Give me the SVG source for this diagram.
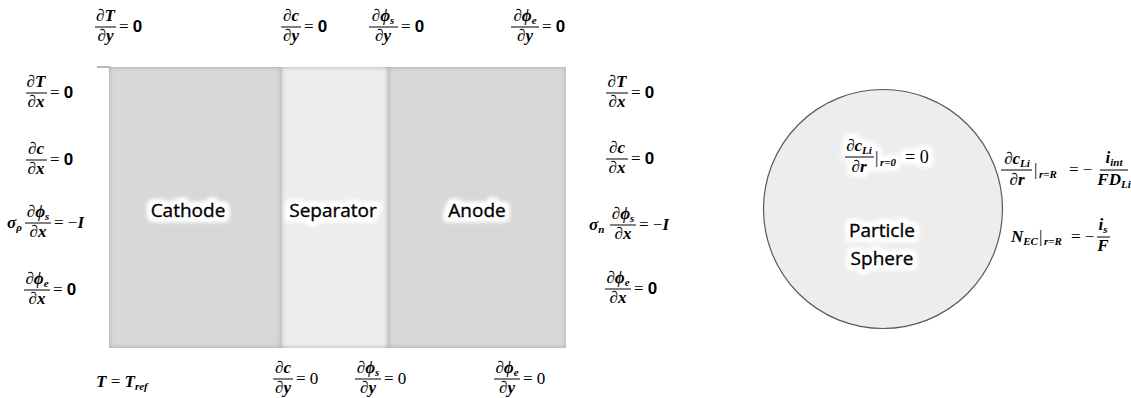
<svg xmlns="http://www.w3.org/2000/svg" width="1131" height="398" viewBox="0 0 1131 398">
<defs>
<style>
.m{font-family:"Liberation Serif","DejaVu Serif",serif;font-style:italic;font-weight:bold;font-size:17px;fill:#000}
.e{font-family:"Liberation Serif","DejaVu Serif",serif;font-style:normal;font-weight:normal;font-size:17px;fill:#000}
.z{font-family:"Liberation Sans",Arial,sans-serif;font-weight:bold;font-style:normal}
.sb{font-size:11px}
.bar{stroke:#000;stroke-width:1}
.lbl{font-family:"Open Sans","Noto Sans",sans-serif;font-size:19px;fill:#000;stroke:#000;stroke-width:0.35;text-anchor:middle}
.c{text-anchor:middle}
</style>
<filter id="inset" x="-5%" y="-5%" width="110%" height="110%">
<feFlood flood-color="#a0a0a0" result="f"/>
<feComposite in="f" in2="SourceAlpha" operator="out" result="o"/>
<feGaussianBlur in="o" stdDeviation="2.5" result="b"/>
<feComposite in="b" in2="SourceAlpha" operator="in" result="s"/>
<feMerge><feMergeNode in="SourceGraphic"/><feMergeNode in="s"/></feMerge>
</filter>
<filter id="halo" x="-20%" y="-50%" width="140%" height="200%">
<feMorphology in="SourceAlpha" operator="dilate" radius="3.5" result="d"/>
<feGaussianBlur in="d" stdDeviation="2" result="b"/>
<feFlood flood-color="#ffffff"/>
<feComposite in2="b" operator="in" result="w"/>
<feMerge><feMergeNode in="w"/><feMergeNode in="w"/></feMerge>
</filter>
</defs>
<rect width="1131" height="398" fill="#fff"/>

<g id="connectors">
<line x1="97" y1="67" x2="110" y2="67" stroke="#8a8a8a" stroke-width="1.2"/>
</g>

<g id="cathode">
<rect x="109" y="67" width="172" height="281" fill="#d8d8d8" filter="url(#inset)"/>
<use href="#lbl-cathode" filter="url(#halo)"/>
<text id="lbl-cathode" class="lbl" x="188" y="217">Cathode</text>
</g>
<g id="separator">
<rect x="281" y="67" width="107" height="281" fill="#ededed" filter="url(#inset)"/>
<use href="#lbl-separator" filter="url(#halo)"/>
<text id="lbl-separator" class="lbl" x="333" y="217">Separator</text>
</g>
<g id="anode">
<rect x="388" y="67" width="178" height="281" fill="#d8d8d8" filter="url(#inset)"/>
<use href="#lbl-anode" filter="url(#halo)"/>
<text id="lbl-anode" class="lbl" x="477" y="217">Anode</text>
</g>

<g id="particle">
<circle cx="883" cy="209" r="119.5" fill="#ededed" stroke="#5a5a5a" stroke-width="1.2"/>
<use href="#lbl-particle" filter="url(#halo)"/>
<g id="lbl-particle">
<text class="lbl" x="882" y="237">Particle</text>
<text class="lbl" x="882" y="265">Sphere</text>
</g>
<use href="#eq-center" filter="url(#halo)"/>
<g id="eq-center">
<text class="m c" x="859" y="151">∂c<tspan class="sb" dy="3">Li</tspan></text>
<line class="bar" x1="845" y1="157" x2="874" y2="157"/>
<text class="m c" x="859" y="172">∂r</text>
<text class="e" x="875" y="163">|</text>
<text class="m sb" x="880" y="166">r=0</text>
<text class="e" x="905" y="163" style="font-size:18px">= 0</text>
</g>
</g>

<g id="top-bc">
<text class="m c" x="105.5" y="21">∂T</text>
<line class="bar" x1="95" y1="27" x2="116" y2="27"/>
<text class="m c" x="105.5" y="41">∂y</text>
<text class="e" x="119" y="32">= <tspan class="z">0</tspan></text>

<text class="m c" x="291" y="21">∂c</text>
<line class="bar" x1="281" y1="27" x2="301" y2="27"/>
<text class="m c" x="291" y="41">∂y</text>
<text class="e" x="304" y="32">= <tspan class="z">0</tspan></text>

<text class="m c" x="383" y="21">∂ϕ<tspan class="sb" dy="3">s</tspan></text>
<line class="bar" x1="369" y1="27" x2="398" y2="27"/>
<text class="m c" x="383" y="41">∂y</text>
<text class="e" x="401" y="32">= <tspan class="z">0</tspan></text>

<text class="m c" x="525" y="21">∂ϕ<tspan class="sb" dy="3">e</tspan></text>
<line class="bar" x1="511" y1="27" x2="539" y2="27"/>
<text class="m c" x="525" y="41">∂y</text>
<text class="e" x="542" y="32">= <tspan class="z">0</tspan></text>
</g>

<g id="left-bc">
<text class="m c" x="36" y="87">∂T</text>
<line class="bar" x1="26" y1="93" x2="47" y2="93"/>
<text class="m c" x="36" y="107">∂x</text>
<text class="e" x="50" y="98">= <tspan class="z">0</tspan></text>

<text class="m c" x="36" y="154">∂c</text>
<line class="bar" x1="26" y1="160" x2="47" y2="160"/>
<text class="m c" x="36" y="174">∂x</text>
<text class="e" x="50" y="165">= <tspan class="z">0</tspan></text>

<text class="m" x="7" y="228">σ<tspan class="sb" dy="3">ρ</tspan></text>
<text class="m c" x="38" y="217">∂ϕ<tspan class="sb" dy="3">s</tspan></text>
<line class="bar" x1="25" y1="223" x2="51" y2="223"/>
<text class="m c" x="38" y="237">∂x</text>
<text class="e" x="54" y="228">= −<tspan class="m">I</tspan></text>

<text class="m c" x="37" y="284">∂ϕ<tspan class="sb" dy="3">e</tspan></text>
<line class="bar" x1="24" y1="290" x2="50" y2="290"/>
<text class="m c" x="37" y="304">∂x</text>
<text class="e" x="53" y="295">= <tspan class="z">0</tspan></text>
</g>

<g id="right-bc">
<text class="m c" x="617" y="87">∂T</text>
<line class="bar" x1="606" y1="93" x2="628" y2="93"/>
<text class="m c" x="617" y="107">∂x</text>
<text class="e" x="631" y="98">= <tspan class="z">0</tspan></text>

<text class="m c" x="617" y="153">∂c</text>
<line class="bar" x1="606" y1="159" x2="628" y2="159"/>
<text class="m c" x="617" y="173">∂x</text>
<text class="e" x="631" y="164">= <tspan class="z">0</tspan></text>

<text class="m" x="589" y="230">σ<tspan class="sb" dy="3">n</tspan></text>
<text class="m c" x="623" y="219">∂ϕ<tspan class="sb" dy="3">s</tspan></text>
<line class="bar" x1="610" y1="225" x2="636" y2="225"/>
<text class="m c" x="623" y="239">∂x</text>
<text class="e" x="639" y="230">= −<tspan class="m">I</tspan></text>

<text class="m c" x="618" y="283">∂ϕ<tspan class="sb" dy="3">e</tspan></text>
<line class="bar" x1="605" y1="289" x2="631" y2="289"/>
<text class="m c" x="618" y="303">∂x</text>
<text class="e" x="634" y="294">= <tspan class="z">0</tspan></text>
</g>

<g id="bottom-bc">
<text class="m" x="96" y="387">T <tspan class="e">=</tspan> T<tspan class="sb" dy="3">ref</tspan></text>

<text class="m c" x="283" y="373">∂c</text>
<line class="bar" x1="273" y1="379" x2="293" y2="379"/>
<text class="m c" x="283" y="393">∂y</text>
<text class="e" x="296" y="384">= 0</text>

<text class="m c" x="368" y="373">∂ϕ<tspan class="sb" dy="3">s</tspan></text>
<line class="bar" x1="355" y1="379" x2="381" y2="379"/>
<text class="m c" x="368" y="393">∂y</text>
<text class="e" x="384" y="384">= 0</text>

<text class="m c" x="507" y="373">∂ϕ<tspan class="sb" dy="3">e</tspan></text>
<line class="bar" x1="494" y1="379" x2="520" y2="379"/>
<text class="m c" x="507" y="393">∂y</text>
<text class="e" x="523" y="384">= 0</text>
</g>

<g id="surface-bc">
<text class="m c" x="1017" y="164">∂c<tspan class="sb" dy="3">Li</tspan></text>
<line class="bar" x1="1001" y1="170" x2="1032" y2="170"/>
<text class="m c" x="1017" y="185">∂r</text>
<text class="e" x="1034" y="175">|</text>
<text class="m sb" x="1039" y="178">r=R</text>
<text class="e" x="1069" y="175">= −</text>
<text class="m c" x="1114" y="163">i<tspan class="sb" dy="3">int</tspan></text>
<line class="bar" x1="1100" y1="170" x2="1128" y2="170"/>
<text class="m c" x="1114" y="185">FD<tspan class="sb" dy="3">Li</tspan></text>

<text class="m" x="1011" y="242">N<tspan class="sb" dy="3">EC</tspan></text>
<text class="e" x="1039" y="242">|</text>
<text class="m sb" x="1044" y="245">r=R</text>
<text class="e" x="1071" y="242">= −</text>
<text class="m c" x="1103" y="230">i<tspan class="sb" dy="3">s</tspan></text>
<line class="bar" x1="1097" y1="237" x2="1110" y2="237"/>
<text class="m c" x="1103" y="251">F</text>
</g>
</svg>
